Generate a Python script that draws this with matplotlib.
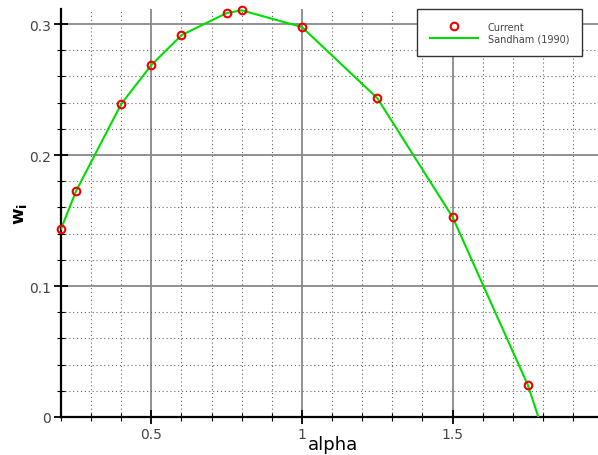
import matplotlib.pyplot as plt
from matplotlib.ticker import MultipleLocator

# data
alpha_cur = [0.2, 0.25, 0.4, 0.5, 0.6, 0.75, 0.8, 1.0, 1.25, 1.5, 1.75]
wi_cur = [0.1435, 0.1725, 0.239, 0.2687, 0.2915, 0.3084, 0.3105, 0.2977, 0.2435, 0.1527, 0.0244]

alpha_san = [0.2, 0.25, 0.4, 0.5, 0.6, 0.75, 0.8, 1.0, 1.25, 1.5, 1.75, 1.785]
wi_san = [0.1435, 0.1725, 0.239, 0.2687, 0.2915, 0.3084, 0.3105, 0.2977, 0.2435, 0.1527, 0.0244, 0.0]

W, H = 598, 456
fig = plt.figure(figsize=(W / 100, H / 100), dpi=100)
ax = fig.add_axes([61 / W, 38 / H, 1 - 61 / W, 408 / H])

ln, = ax.plot(alpha_san, wi_san, color='#00dd00', lw=1.5, label='Sandham (1990)', zorder=3)
pts, = ax.plot(alpha_cur, wi_cur, 'o', mfc='none', mec='#ee0000', mew=1.5, ms=5.5,
               label='Current', zorder=4, clip_on=False)

ax.set_xlim(0.2, 1.983)
ax.set_ylim(0, 0.3115)
ax.xaxis.set_major_locator(MultipleLocator(0.5))
ax.xaxis.set_minor_locator(MultipleLocator(0.1))
ax.yaxis.set_major_locator(MultipleLocator(0.1))
ax.yaxis.set_minor_locator(MultipleLocator(0.02))
ax.set_xticks([0.5, 1.0, 1.5])
ax.set_xticklabels(['0.5', '1', '1.5'])
ax.set_yticks([0, 0.1, 0.2, 0.3])
ax.set_yticklabels(['0', '0.1', '0.2', '0.3'])

ax.grid(which='major', color='#888888', lw=1.3, ls='-')
ax.grid(which='minor', color='#666666', lw=0.8, ls=(0, (1, 2.5)))
ax.set_axisbelow(True)

for s in ['top', 'right']:
    ax.spines[s].set_visible(False)
for s in ['left', 'bottom']:
    ax.spines[s].set_linewidth(1.6)
    ax.spines[s].set_color('black')

ax.tick_params(which='major', direction='inout', length=10, width=1.3,
               labelsize=10, labelcolor='#444444', pad=2)
ax.tick_params(which='minor', direction='inout', length=6, width=0.8)

ax.set_xlabel('alpha', fontsize=13)
ax.xaxis.set_label_coords((333 - 61) / 537, (418 - 445) / 408)
ax.xaxis.label.set_va('center')
ax.set_ylabel(r'w$_\mathregular{i}$', fontsize=13, fontweight='bold')
ax.yaxis.set_label_coords((20 - 61) / 537, (418 - 214) / 408)
ax.yaxis.label.set_va('center')

leg = ax.legend([pts, ln], ['Current', 'Sandham (1990)'], loc='upper right',
                bbox_to_anchor=(582 / W, 1 - 10 / H), borderaxespad=0,
                bbox_transform=fig.transFigure, fontsize=7, frameon=True,
                fancybox=False, borderpad=1.3, handlelength=5, labelspacing=0.2,
                handletextpad=1.0)
leg.get_frame().set_edgecolor('#333333')
leg.get_frame().set_linewidth(1.0)
leg.get_frame().set_alpha(1)
for t in leg.get_texts():
    t.set_color('#444444')

fig.savefig('out.png', dpi=100)
